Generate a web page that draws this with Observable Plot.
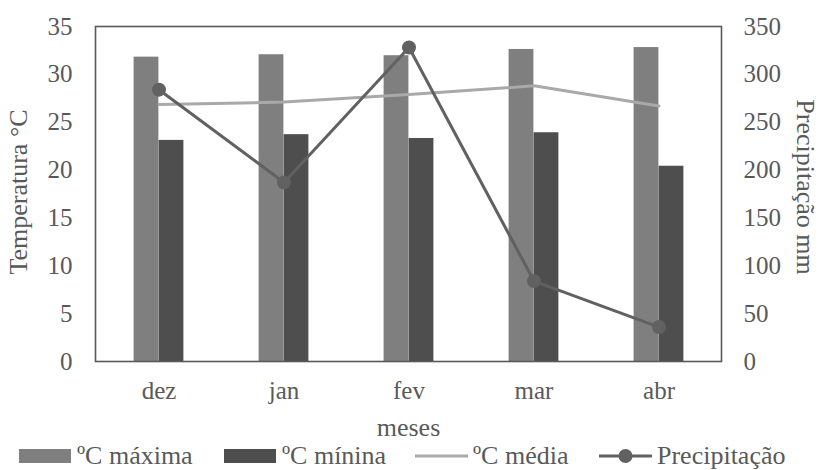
<!DOCTYPE html>
<html>
<head>
<meta charset="utf-8">
<script src="https://cdn.jsdelivr.net/npm/d3@7"></script>
<script src="https://cdn.jsdelivr.net/npm/@observablehq/plot@0.6"></script>
<style>
  html, body { margin: 0; padding: 0; background: #fff; }
  body { width: 824px; height: 470px; overflow: hidden; font-family: "Liberation Serif", "Times New Roman", serif; color: #595959; }
  #chart svg { display: block; }
  #legend { position: relative; height: 20px; font-size: 26px; }
  #legend .item { position: absolute; top: 0; height: 20px; display: flex; align-items: center; white-space: nowrap; }
  #legend svg { margin-right: 5px; }
</style>
</head>
<body>
<div id="chart"></div>
<div id="legend"></div>
<script>
// Monthly climate: temperature (°C) on the left axis, rainfall (mm) on the right axis
const months = ["dez", "jan", "fev", "mar", "abr"];
const tempMax = [31.8, 32.05, 31.95, 32.6, 32.8];
const tempMin = [23.1, 23.7, 23.3, 23.9, 20.4];
const tempMean = [26.85, 27.1, 27.9, 28.8, 26.7];
const precip = [284, 187, 328, 84, 36];
const tempTicks = [0, 5, 10, 15, 20, 25, 30, 35];
const precipTicks = [0, 50, 100, 150, 200, 250, 300, 350];

// right axis spans 0–350 mm over the same height as 0–35 °C
const mmPerDegree = precipTicks[precipTicks.length - 1] / tempTicks[tempTicks.length - 1];

const colors = { max: "#7f7f7f", min: "#4e4e4e", mean: "#a9a9a9", precip: "#616161" };
const ink = "#595959";

const rows = months.map((month, i) => ({
  month,
  max: tempMax[i],
  min: tempMin[i],
  mean: tempMean[i],
  precip: precip[i]
}));

const width = 824, height = 446;
const margin = { top: 26, right: 103, bottom: 85, left: 95 };
const band = (width - margin.left - margin.right) / months.length;
const barW = 25;

const chart = Plot.plot({
  width,
  height,
  marginTop: margin.top,
  marginRight: margin.right,
  marginBottom: margin.bottom,
  marginLeft: margin.left,
  style: { fontFamily: "Liberation Serif, Times New Roman, serif", fontSize: "25px", color: ink, background: "#fff" },
  x: { type: "band", domain: months, padding: 0 },
  y: { domain: [0, 35] },
  marks: [
    Plot.barY(rows, { x: "month", y: "max", fill: colors.max, insetLeft: band / 2 - barW, insetRight: band / 2 }),
    Plot.barY(rows, { x: "month", y: "min", fill: colors.min, insetLeft: band / 2, insetRight: band / 2 - barW }),
    Plot.lineY(rows, { x: "month", y: "mean", stroke: colors.mean, strokeWidth: 3 }),
    Plot.lineY(rows, { x: "month", y: d => d.precip / mmPerDegree, stroke: colors.precip, strokeWidth: 3 }),
    Plot.dot(rows, { x: "month", y: d => d.precip / mmPerDegree, r: 7, fill: colors.precip }),
    Plot.frame({ stroke: ink, strokeWidth: 1.6 }),
    Plot.axisY({ anchor: "left", ticks: tempTicks, tickSize: 0, tickPadding: 23, label: null }),
    Plot.axisY({ anchor: "right", ticks: precipTicks.map(p => p / mmPerDegree), tickFormat: d => d * mmPerDegree, tickSize: 0, tickPadding: 22, label: null }),
    Plot.axisX({ tickSize: 0, tickPadding: 20, label: null }),
    Plot.text(["meses"], { frameAnchor: "bottom", dy: 66, lineAnchor: "middle", fill: ink, fontSize: 26 }),
    Plot.text(["Temperatura °C"], { frameAnchor: "left", textAnchor: "middle", rotate: -90, dx: -77, dy: -2, lineAnchor: "middle", fill: ink, fontSize: 26 }),
    Plot.text(["Precipitação mm"], { frameAnchor: "right", textAnchor: "middle", rotate: 90, dx: 84, dy: -7, lineAnchor: "middle", fill: ink, fontSize: 26 })
  ]
});
document.getElementById("chart").appendChild(chart);

// Legend row below the chart
const legendItems = [
  { label: "ºC máxima", kind: "rect", color: colors.max, left: 19 },
  { label: "ºC mínina", kind: "rect", color: colors.min, left: 224 },
  { label: "ºC média", kind: "line", color: colors.mean, left: 415 },
  { label: "Precipitação", kind: "lineDot", color: colors.precip, left: 599 }
];
const legend = d3.select("#legend");
for (const item of legendItems) {
  const div = legend.append("div").attr("class", "item").style("left", item.left + "px");
  const svg = div.append("svg").attr("width", 53).attr("height", 16);
  if (item.kind === "rect") {
    svg.append("rect").attr("x", 0).attr("y", 1).attr("width", 52).attr("height", 14).attr("fill", item.color);
  } else {
    svg.append("line").attr("x1", 0).attr("x2", 53).attr("y1", 8).attr("y2", 8)
      .attr("stroke", item.color).attr("stroke-width", 3);
    if (item.kind === "lineDot") {
      svg.append("circle").attr("cx", 26.5).attr("cy", 8).attr("r", 7).attr("fill", item.color);
    }
  }
  div.append("span").text(item.label);
}
</script>
</body>
</html>
